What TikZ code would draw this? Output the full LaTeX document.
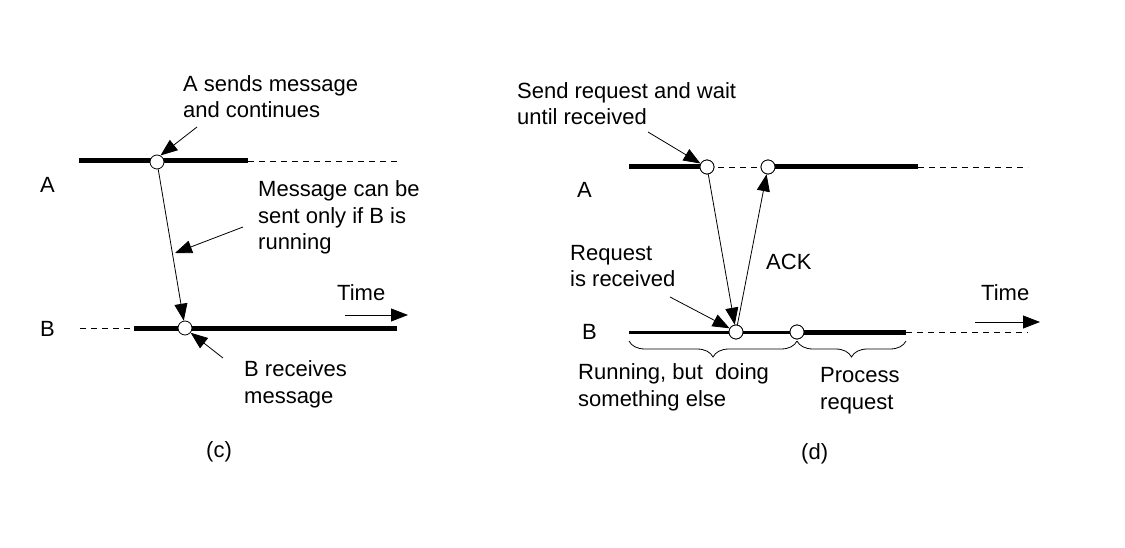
\documentclass[tikz,border=0pt]{standalone}
\usepackage{fontspec}
\setmainfont{Liberation Sans}
\usetikzlibrary{arrows.meta,decorations.pathreplacing}
\begin{document}
\begin{tikzpicture}[x=1pt,y=-1pt,
  font=\fontsize{22}{26.5}\selectfont,
  evt/.style={circle,draw,fill=white,minimum size=14pt,inner sep=0pt,line width=0.8pt},
  busy/.style={line width=5pt},
  half/.style={line width=3pt},
  idle/.style={line width=0.8pt,dash pattern=on 6pt off 5pt},
  msg/.style={line width=0.8pt,-{Triangle[length=17pt,width=13pt]}},
  lbl/.style={anchor=base west,align=left,inner sep=0pt},
  brc/.style={line width=0.8pt,decorate,decoration={brace,amplitude=16pt,mirror}}]
\useasboundingbox (0,0) rectangle (1125,548);
% ---------- (c) ----------
\coordinate (ca0) at (79,161); \coordinate (ca1) at (248,161); \coordinate (ca2) at (397,161);
\coordinate (cb0) at (80,328); \coordinate (cb1) at (134,328); \coordinate (cb2) at (397,328);
\draw[busy] (ca0) -- (ca1);
\draw[idle] (ca1) -- (ca2);
\draw[idle] (cb0) -- (cb1);
\draw[busy] (cb1) -- (cb2);
\node[evt] (ca) at (157,162) {};
\node[evt] (cb) at (185,328) {};
\node[lbl] (lA) at (40,193) {A};
\node[lbl] (lB) at (40,336) {B};
\node[lbl] (t1) at (183,118) {A sends message\\and continues};
\node[lbl] (t2) at (258,250) {Message can be\\sent only if B is\\running};
\node[lbl] (t3) at (244,403) {B receives\\message};
\node[lbl] (t4) at (337,301) {Time};
\node[lbl] (cap1) at (206,457) {(c)};
\draw[msg] (ca) -- (cb);
\coordinate (p1) at (197,127);
\draw[msg] (p1) -- (ca.62);
\coordinate (p2) at (243,227); \coordinate (p2e) at (175,253);
\draw[msg] (p2) -- (p2e);
\coordinate (p3) at (223,358);
\draw[msg] (p3) -- (cb.-40);
\coordinate (tm1) at (345,315); \coordinate (tm2) at (408,315);
\draw[msg] (tm1) -- (tm2);
% ---------- (d) ----------
\coordinate (da0) at (629,167); \coordinate (da1) at (918,167); \coordinate (da2) at (1028,167);
\coordinate (db0) at (629,332); \coordinate (db1) at (906,332); \coordinate (db2) at (1028,332);
\node[evt] (ra1) at (707,167) {};
\node[evt] (ra2) at (768,167) {};
\node[evt] (rb1) at (736,332) {};
\node[evt] (rb2) at (797,332) {};
\draw[busy] (da0) -- (ra1.center);
\draw[idle] (ra1.center) -- (ra2.center);
\draw[busy] (ra2.center) -- (da1);
\draw[idle] (da1) -- (da2);
\draw[half] (db0) -- (rb2.center);
\draw[busy] (rb2.center) -- (db1);
\draw[idle] (db1) -- (db2);
\node[evt] at (ra1) {};
\node[evt] at (ra2) {};
\node[evt] at (rb1) {};
\node[evt] at (rb2) {};
\node[lbl] (dA) at (577,198) {A};
\node[lbl] (dB) at (582,339) {B};
\node[lbl] (s1) at (517,125) {Send request and wait\\until received};
\node[lbl] (s2) at (570,287) {Request\\is received};
\node[lbl] (s3) at (766,270) {ACK};
\node[lbl] (s4) at (981,301) {Time};
\node[lbl] (s5) at (578,406) {Running, but\ \ doing\\something else};
\node[lbl] (s6) at (820,409) {Process\\request};
\node[lbl] (cap2) at (801,459) {(d)};
\draw[msg] (ra1) -- (rb1);
\draw[msg] (rb1) -- (ra2);
\coordinate (q1) at (648,132);
\draw[msg] (q1) -- (ra1.152);
\coordinate (q2) at (670,297);
\draw[msg] (q2) -- (rb1.150);
\coordinate (tn1) at (975,322); \coordinate (tn2) at (1040,322);
\draw[msg] (tn1) -- (tn2);
\coordinate (b0) at (629,341); \coordinate (b1) at (797,341); \coordinate (b2) at (906,341);
\draw[brc] (b0) -- (b1);
\draw[brc] (b1) -- (b2);
\end{tikzpicture}
\end{document}
